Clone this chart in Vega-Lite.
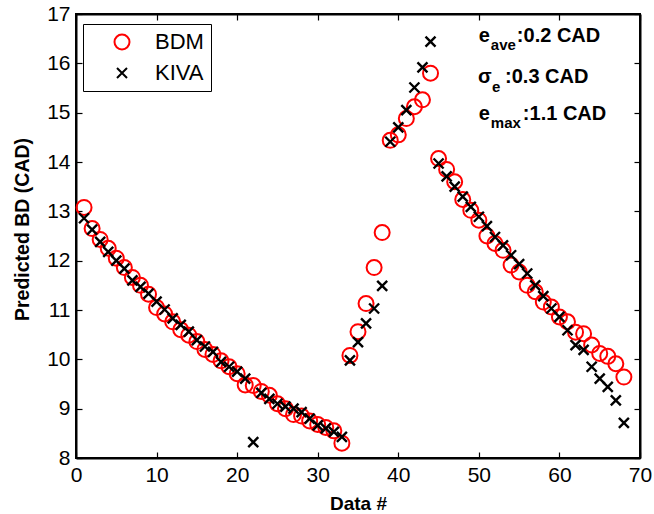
{
  "$schema": "https://vega.github.io/schema/vega-lite/v6.json",
  "width": 564,
  "height": 444,
  "autosize": "none",
  "padding": {"left": 76, "top": 14, "right": 14, "bottom": 56},
  "background": "white",
  "config": {
    "view": {"stroke": "black", "strokeWidth": 2},
    "font": "Liberation Sans",
    "axis": {
      "domainColor": "black", "domainWidth": 2, "tickColor": "black", "tickWidth": 1.2,
      "tickSize": -6, "labelPadding": 12, "labelFont": "Liberation Sans", "labelFontSize": 21,
      "labelColor": "black", "labelFlush": false, "labelOverlap": false, "grid": false,
      "titleFont": "Liberation Sans", "titleFontSize": 19,
      "titleFontWeight": "bold", "titleColor": "black"
    }
  },
  "datasets": {
    "pred": [
      {"n":1,"BDM":13.08,"KIVA":12.86},{"n":2,"BDM":12.65,"KIVA":12.63},{"n":3,"BDM":12.43,"KIVA":12.38},
      {"n":4,"BDM":12.25,"KIVA":12.18},{"n":5,"BDM":12.05,"KIVA":12.0},{"n":6,"BDM":11.86,"KIVA":11.84},
      {"n":7,"BDM":11.66,"KIVA":11.6},{"n":8,"BDM":11.5,"KIVA":11.47},{"n":9,"BDM":11.32,"KIVA":11.33},
      {"n":10,"BDM":11.05,"KIVA":11.17},{"n":11,"BDM":10.92,"KIVA":11.01},{"n":12,"BDM":10.76,"KIVA":10.83},
      {"n":13,"BDM":10.6,"KIVA":10.7},{"n":14,"BDM":10.49,"KIVA":10.56},{"n":15,"BDM":10.36,"KIVA":10.39},
      {"n":16,"BDM":10.2,"KIVA":10.26},{"n":17,"BDM":10.1,"KIVA":10.15},{"n":18,"BDM":9.97,"KIVA":9.95},
      {"n":19,"BDM":9.85,"KIVA":9.85},{"n":20,"BDM":9.71,"KIVA":9.75},{"n":21,"BDM":9.48,"KIVA":9.61},
      {"n":22,"BDM":9.47,"KIVA":8.32},{"n":23,"BDM":9.35,"KIVA":9.32},{"n":24,"BDM":9.27,"KIVA":9.2},
      {"n":25,"BDM":9.1,"KIVA":9.1},{"n":26,"BDM":9.0,"KIVA":9.04},{"n":27,"BDM":8.88,"KIVA":9.0},
      {"n":28,"BDM":8.85,"KIVA":8.93},{"n":29,"BDM":8.75,"KIVA":8.8},{"n":30,"BDM":8.68,"KIVA":8.66},
      {"n":31,"BDM":8.62,"KIVA":8.6},{"n":32,"BDM":8.55,"KIVA":8.53},{"n":33,"BDM":8.3,"KIVA":8.43},
      {"n":34,"BDM":10.08,"KIVA":9.98},{"n":35,"BDM":10.56,"KIVA":10.35},{"n":36,"BDM":11.13,"KIVA":10.73},
      {"n":37,"BDM":11.86,"KIVA":11.03},{"n":38,"BDM":12.57,"KIVA":11.49},{"n":39,"BDM":14.44,"KIVA":14.41},
      {"n":40,"BDM":14.55,"KIVA":14.7},{"n":41,"BDM":14.88,"KIVA":15.05},{"n":42,"BDM":15.12,"KIVA":15.51},
      {"n":43,"BDM":15.26,"KIVA":15.92},{"n":44,"BDM":15.8,"KIVA":16.44},{"n":45,"BDM":14.07,"KIVA":13.97},
      {"n":46,"BDM":13.85,"KIVA":13.71},{"n":47,"BDM":13.6,"KIVA":13.5},{"n":48,"BDM":13.24,"KIVA":13.3},
      {"n":49,"BDM":13.02,"KIVA":13.09},{"n":50,"BDM":12.82,"KIVA":12.89},{"n":51,"BDM":12.5,"KIVA":12.7},
      {"n":52,"BDM":12.35,"KIVA":12.48},{"n":53,"BDM":12.21,"KIVA":12.31},{"n":54,"BDM":11.91,"KIVA":12.11},
      {"n":55,"BDM":11.77,"KIVA":11.93},{"n":56,"BDM":11.5,"KIVA":11.74},{"n":57,"BDM":11.37,"KIVA":11.5},
      {"n":58,"BDM":11.16,"KIVA":11.28},{"n":59,"BDM":11.06,"KIVA":11.03},{"n":60,"BDM":10.86,"KIVA":10.86},
      {"n":61,"BDM":10.76,"KIVA":10.59},{"n":62,"BDM":10.55,"KIVA":10.29},{"n":63,"BDM":10.52,"KIVA":10.19},
      {"n":64,"BDM":10.29,"KIVA":9.85},{"n":65,"BDM":10.12,"KIVA":9.61},{"n":66,"BDM":10.06,"KIVA":9.44},
      {"n":67,"BDM":9.91,"KIVA":9.17},{"n":68,"BDM":9.64,"KIVA":8.71}
    ]
  },
  "resolve": {"axis": {"x": "independent", "y": "independent"}},
  "layer": [
    {
      "data": {"name": "pred"},
      "mark": {"type": "point", "filled": false, "strokeWidth": 2, "opacity": 1},
      "encoding": {
        "x": {"field": "n", "type": "quantitative", "scale": {"domain": [0, 70], "nice": false},
              "axis": {"orient": "bottom", "values": [0,10,20,30,40,50,60,70], "title": "Data #", "titlePadding": 9}},
        "y": {"field": "BDM", "type": "quantitative", "scale": {"domain": [8, 17], "nice": false, "zero": false},
              "axis": {"orient": "left", "values": [8,9,10,11,12,13,14,15,16,17], "title": "Predicted BD (CAD)", "titlePadding": 14, "titleFontSize": 19.5, "titleY": 215}},
        "color": {"datum": "BDM", "type": "nominal",
                  "scale": {"domain": ["BDM", "KIVA"], "range": ["#ff0000", "#000000"]},
                  "legend": {"title": null, "orient": "none", "legendX": 7, "legendY": 10, "strokeColor": "black",
                             "fillColor": "white", "padding": 7, "symbolOffset": 21, "labelOffset": 22,
                             "labelFontSize": 22, "labelFont": "Liberation Sans", "labelColor": "black",
                             "rowPadding": 8, "symbolStrokeWidth": 2, "symbolFillColor": "transparent"}},
        "shape": {"datum": "BDM", "type": "nominal",
                  "scale": {"domain": ["BDM", "KIVA"], "range": ["circle", "M-1,-1L1,1M-1,1L1,-1"]}},
        "size": {"datum": "BDM", "type": "nominal",
                 "scale": {"domain": ["BDM", "KIVA"], "range": [225, 100]}}
      }
    },
    {
      "data": {"name": "pred"},
      "mark": {"type": "point", "filled": false, "strokeWidth": 2.4, "opacity": 1},
      "encoding": {
        "x": {"field": "n", "type": "quantitative",
              "axis": {"orient": "top", "values": [0,10,20,30,40,50,60,70], "labels": false, "title": null}},
        "y": {"field": "KIVA", "type": "quantitative",
              "axis": {"orient": "right", "values": [8,9,10,11,12,13,14,15,16,17], "labels": false, "title": null}},
        "color": {"datum": "KIVA", "type": "nominal"},
        "shape": {"datum": "KIVA", "type": "nominal"},
        "size": {"datum": "KIVA", "type": "nominal"}
      }
    },
    {
      "data": {"values": [{"t": "e"}]},
      "mark": {"type": "text", "align": "left", "baseline": "alphabetic", "fontSize": 20, "fontWeight": "bold", "color": "black"},
      "encoding": {"x": {"datum": 50.0, "type": "quantitative", "axis": null}, "y": {"datum": 16.43, "type": "quantitative", "axis": null}, "text": {"field": "t"}}
    },
    {
      "data": {"values": [{"t": "ave"}]},
      "mark": {"type": "text", "align": "left", "baseline": "alphabetic", "fontSize": 15, "fontWeight": "bold", "color": "black", "dx": 12, "dy": 8},
      "encoding": {"x": {"datum": 50.0, "type": "quantitative", "axis": null}, "y": {"datum": 16.43, "type": "quantitative", "axis": null}, "text": {"field": "t"}}
    },
    {
      "data": {"values": [{"t": ":0.2 CAD"}]},
      "mark": {"type": "text", "align": "left", "baseline": "alphabetic", "fontSize": 20, "fontWeight": "bold", "color": "black", "dx": 38},
      "encoding": {"x": {"datum": 50.0, "type": "quantitative", "axis": null}, "y": {"datum": 16.43, "type": "quantitative", "axis": null}, "text": {"field": "t"}}
    },
    {
      "data": {"values": [{"t": "σ"}]},
      "mark": {"type": "text", "align": "left", "baseline": "alphabetic", "fontSize": 20, "fontWeight": "bold", "color": "black"},
      "encoding": {"x": {"datum": 49.9, "type": "quantitative", "axis": null}, "y": {"datum": 15.6, "type": "quantitative", "axis": null}, "text": {"field": "t"}}
    },
    {
      "data": {"values": [{"t": "e"}]},
      "mark": {"type": "text", "align": "left", "baseline": "alphabetic", "fontSize": 15, "fontWeight": "bold", "color": "black", "dx": 14, "dy": 9},
      "encoding": {"x": {"datum": 49.9, "type": "quantitative", "axis": null}, "y": {"datum": 15.6, "type": "quantitative", "axis": null}, "text": {"field": "t"}}
    },
    {
      "data": {"values": [{"t": ":0.3 CAD"}]},
      "mark": {"type": "text", "align": "left", "baseline": "alphabetic", "fontSize": 20, "fontWeight": "bold", "color": "black", "dx": 27},
      "encoding": {"x": {"datum": 49.9, "type": "quantitative", "axis": null}, "y": {"datum": 15.6, "type": "quantitative", "axis": null}, "text": {"field": "t"}}
    },
    {
      "data": {"values": [{"t": "e"}]},
      "mark": {"type": "text", "align": "left", "baseline": "alphabetic", "fontSize": 20, "fontWeight": "bold", "color": "black"},
      "encoding": {"x": {"datum": 50.0, "type": "quantitative", "axis": null}, "y": {"datum": 14.86, "type": "quantitative", "axis": null}, "text": {"field": "t"}}
    },
    {
      "data": {"values": [{"t": "max"}]},
      "mark": {"type": "text", "align": "left", "baseline": "alphabetic", "fontSize": 15, "fontWeight": "bold", "color": "black", "dx": 12, "dy": 8},
      "encoding": {"x": {"datum": 50.0, "type": "quantitative", "axis": null}, "y": {"datum": 14.86, "type": "quantitative", "axis": null}, "text": {"field": "t"}}
    },
    {
      "data": {"values": [{"t": ":1.1 CAD"}]},
      "mark": {"type": "text", "align": "left", "baseline": "alphabetic", "fontSize": 20, "fontWeight": "bold", "color": "black", "dx": 44},
      "encoding": {"x": {"datum": 50.0, "type": "quantitative", "axis": null}, "y": {"datum": 14.86, "type": "quantitative", "axis": null}, "text": {"field": "t"}}
    }
  ]
}
